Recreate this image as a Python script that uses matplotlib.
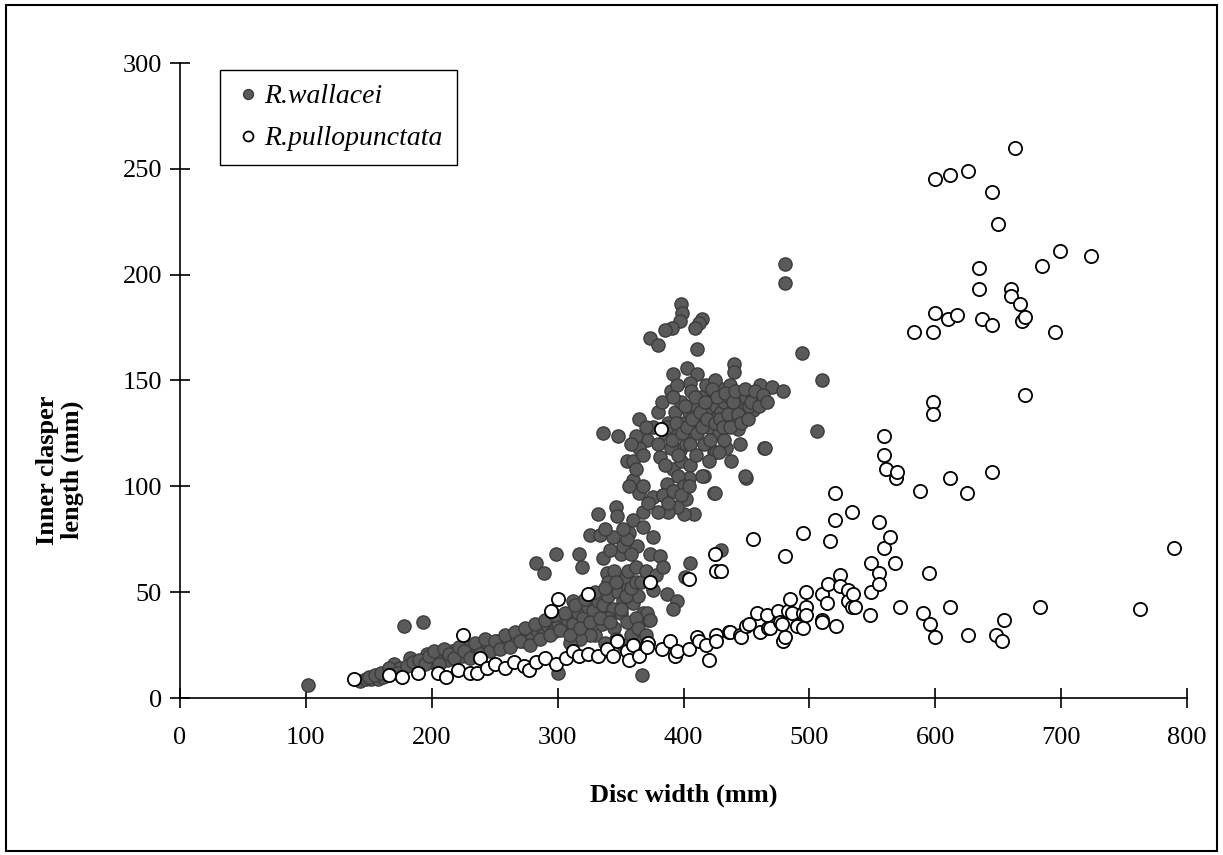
import matplotlib.pyplot as plt
from matplotlib.patches import Rectangle

plt.rcParams["font.family"] = ["Liberation Serif", "DejaVu Serif"]

# R. wallacei: disc width (mm), inner clasper length (mm)
wallacei_dw = [
    102, 143, 148, 152, 157, 161, 165, 170, 175, 178, 183, 187, 193, 196, 200,
    204, 208, 212, 216, 220, 224, 228, 232, 236, 240, 244, 248, 252, 256, 260,
    264, 268, 272, 276, 280, 284, 288, 292, 296, 300, 300, 304, 308, 312, 316,
    320, 324, 328, 332, 336, 340, 344, 348, 352, 356, 360, 364, 368, 372, 366,
    367, 312, 283, 289, 299, 317, 319, 326, 332, 334, 344, 346, 347, 336, 339,
    350, 354, 360, 368, 376, 373, 363, 381, 405, 376, 387, 395, 392, 371, 373,
    336, 348, 365, 355, 360, 365, 376, 387, 392, 402, 408, 400, 395, 371, 376,
    397, 424, 416, 424, 360, 381, 415, 425, 450, 430, 401, 464, 443, 434, 426,
    428, 449, 506, 510, 494, 481, 481, 398, 399, 397, 391, 385, 415, 412, 409,
    373, 380, 411, 440, 440, 461, 470, 479, 392, 403, 411, 405, 430, 437, 420,
    448, 458, 455, 465, 380, 385, 388, 390, 393, 395, 398, 400, 402, 404, 406,
    408, 410, 412, 414, 416, 418, 420, 422, 424, 426, 428, 430, 432, 434, 436,
    438, 440, 442, 445, 448, 450, 452, 455, 398, 405, 385, 390, 395, 418, 425,
    380, 370, 365, 362, 330, 335, 340, 345, 350, 355, 358, 362, 346, 338, 326,
    318, 310, 352, 364, 370, 356, 345, 340, 388, 384, 368, 357, 352, 395, 404,
    150, 155, 160, 166, 172, 180, 185, 190, 195, 198,
    202, 206, 210, 214, 218, 222, 226, 230, 234, 238,
    242, 246, 250, 254, 258, 262, 266, 270, 274, 278,
    282, 286, 290, 294, 298, 302, 306, 310, 314, 318,
    322, 326, 330, 334, 338, 342, 346, 350, 354, 358, 362,
    383, 387, 391, 394, 396, 399, 401, 403, 405, 407, 409,
    411, 413, 415, 417, 419, 421, 423, 425, 427, 429, 431,
    433, 435, 437, 439, 441, 443, 446, 449, 451, 454, 457,
    460, 463, 466, 392, 396, 400, 410, 420, 432, 438, 445,
    358, 362, 368, 372, 380, 384, 388, 392, 398, 404, 368,
    357, 355, 358, 362, 366, 352, 342, 338, 370, 378, 384,
]
wallacei_cl = [
    6, 8, 9, 9, 9, 10, 12, 16, 14, 34, 19, 15, 36, 21, 17,
    19, 20, 18, 22, 21, 20, 24, 22, 25, 23, 26, 24, 27, 25, 28,
    26, 29, 27, 31, 29, 32, 30, 34, 31, 12, 35, 33, 37, 35, 40,
    38, 43, 41, 46, 44, 48, 42, 50, 46, 52, 45, 48, 40, 37, 29,
    11, 46, 64, 59, 68, 68, 62, 77, 87, 77, 76, 90, 86, 66, 59,
    68, 57, 84, 81, 76, 68, 72, 67, 64, 51, 49, 46, 42, 40, 37,
    125, 124, 132, 112, 103, 97, 95, 101, 108, 94, 87, 87, 90, 122, 128,
    117, 116, 105, 97, 112, 114, 105, 97, 104, 70, 57, 118, 127, 118, 116,
    116, 105, 126, 150, 163, 205, 196, 186, 182, 178, 175, 174, 179, 177, 175,
    170, 167, 165, 158, 154, 148, 147, 145, 153, 156, 153, 149, 146, 148, 145,
    142, 141, 136, 118, 120, 125, 130, 118, 135, 125, 140, 130, 120, 135, 145,
    125, 138, 130, 142, 120, 135, 128, 140, 132, 138, 125, 135, 140, 130, 142,
    135, 138, 132, 140, 136, 142, 138, 143, 112, 110, 110, 145, 148, 148, 150,
    135, 128, 118, 124, 30, 35, 38, 33, 40, 36, 30, 38, 28, 26, 30,
    28, 26, 25, 33, 30, 60, 60, 55, 88, 96, 88, 78, 72, 98, 104,
    10, 11, 12, 14, 12, 15, 17, 18, 16, 20,
    22, 16, 23, 21, 19, 24, 22, 19, 26, 21,
    28, 22, 27, 23, 30, 24, 31, 27, 33, 25,
    35, 28, 37, 30, 39, 32, 40, 30, 44, 33,
    47, 36, 50, 38, 52, 36, 55, 42, 48, 52, 55,
    140, 128, 122, 130, 115, 125, 138, 128, 120, 132, 142,
    125, 135, 128, 140, 132, 122, 146, 130, 142, 132, 128,
    144, 134, 128, 140, 145, 134, 130, 146, 132, 140, 145,
    138, 143, 140, 142, 105, 100, 115, 112, 122, 112, 120,
    120, 108, 100, 92, 88, 96, 92, 98, 96, 100, 115,
    100, 75, 68, 62, 55, 80, 70, 80, 60, 58, 62,
]

# R. pullopunctata
pullo_dw = [
    138, 166, 176, 189, 205, 211, 221, 225, 230, 236, 238, 244, 250, 258, 265,
    273, 277, 283, 290, 295, 299, 300, 307, 312, 317, 324, 324, 332, 339, 344,
    347, 355, 360, 357, 365, 372, 371, 373, 382, 383, 389, 393, 395, 404, 404,
    411, 412, 418, 420, 425, 426, 430, 426, 426, 436, 437, 445, 446, 450, 452,
    455, 458, 461, 466, 467, 469, 475, 477, 478, 479, 481, 481, 483, 485, 486,
    490, 495, 495, 497, 497, 497, 495, 510, 510, 510, 514, 515, 516, 520, 520,
    521, 524, 524, 531, 531, 534, 535, 536, 534, 549, 549, 548, 555, 555, 555,
    559, 559, 559, 561, 564, 568, 569, 570, 572, 583, 588, 590, 595, 596, 598,
    598, 598, 600, 600, 600, 612, 612, 612, 610, 617, 626, 625, 626, 635, 635,
    637, 645, 645, 645, 648, 650, 653, 655, 660, 660, 667, 669, 671, 671, 663,
    683, 685, 695, 699, 724, 763, 790,
]
pullo_cl = [
    9, 11, 10, 12, 12, 10, 13, 30, 12, 12, 19, 14, 16, 14, 17,
    15, 13, 17, 19, 41, 16, 47, 19, 22, 20, 21, 49, 20, 23, 20,
    27, 22, 25, 18, 20, 26, 24, 55, 127, 23, 27, 20, 22, 23, 56,
    29, 27, 25, 18, 68, 60, 60, 30, 27, 31, 31, 30, 29, 34, 35,
    75, 40, 31, 39, 33, 33, 41, 36, 35, 27, 29, 67, 41, 47, 40,
    34, 33, 40, 43, 39, 50, 78, 49, 37, 36, 45, 54, 74, 97, 84,
    34, 58, 53, 51, 46, 43, 49, 43, 88, 64, 50, 39, 83, 59, 54,
    71, 124, 115, 108, 76, 64, 104, 107, 43, 173, 98, 40, 59, 35, 140,
    134, 173, 182, 245, 29, 247, 104, 43, 179, 181, 249, 97, 30, 203, 193,
    179, 239, 176, 107, 30, 224, 27, 37, 193, 190, 186, 178, 180, 143, 260,
    43, 204, 173, 211, 209, 42, 71,
]

fig = plt.figure(figsize=(12.23, 8.55), dpi=100)
ax = fig.add_axes([180 / 1223, 1 - 698 / 855, 1007 / 1223, 635 / 855])

ax.plot(wallacei_dw, wallacei_cl, linestyle="none", marker="o", markersize=9.5,
        markerfacecolor="#5a5a5a", markeredgecolor="#3c3c3c", markeredgewidth=1.0,
        label="R.wallacei")
ax.plot(pullo_dw, pullo_cl, linestyle="none", marker="o", markersize=9.5,
        markerfacecolor="white", markeredgecolor="black", markeredgewidth=1.3,
        label="R.pullopunctata")

ax.set_xlim(0, 800)
ax.set_ylim(0, 300)
ax.set_xticks(range(0, 801, 100))
ax.set_yticks(range(0, 301, 50))
ax.spines["top"].set_visible(False)
ax.spines["right"].set_visible(False)
for side in ("left", "bottom"):
    ax.spines[side].set_linewidth(1.2)
ax.tick_params(direction="inout", length=14, width=1.2, labelsize=19, pad=6)
ax.tick_params(axis="x", pad=14)

leg = ax.legend(loc="upper left", bbox_to_anchor=(0.0397, 0.989),
                borderaxespad=0, fancybox=False, edgecolor="black",
                framealpha=1, handletextpad=0.1, handlelength=1.0,
                markerscale=0.75, borderpad=0.5, labelspacing=0.6,
                prop={"style": "italic", "size": 20})
leg.get_frame().set_linewidth(1.0)

fig.text(684 / 1223, 1 - 795 / 855, "Disc width (mm)", ha="center", va="center",
         fontsize=19, fontweight="bold")
fig.text(60 / 1223, 1 - 470 / 855, "Inner clasper\nlength (mm)", ha="center",
         va="center", rotation=90, fontsize=19, fontweight="bold",
         linespacing=1.1)

fig.patches.append(Rectangle((6 / 1223, 4 / 855), 1211 / 1223, 846 / 855,
                             transform=fig.transFigure, fill=False,
                             edgecolor="black", linewidth=1.5))

fig.savefig("out.png", dpi=100)
